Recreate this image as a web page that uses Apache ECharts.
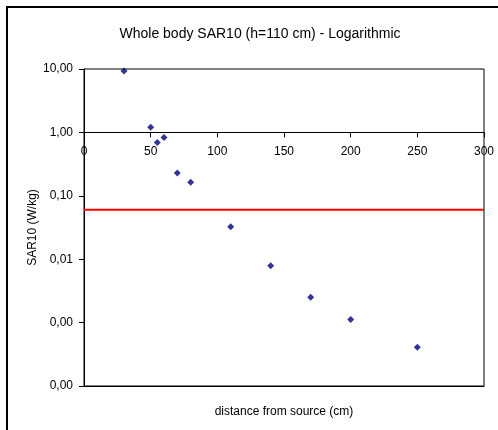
<!DOCTYPE html>
<html>
<head>
<meta charset="utf-8">
<script src="https://cdn.jsdelivr.net/npm/echarts@6/dist/echarts.min.js"></script>
<style>
html,body{margin:0;padding:0;background:#fff;}
#chart{width:498px;height:430px;}
</style>
</head>
<body>
<div id="chart"></div>
<script>
// Data
var distances = [30, 50, 55, 60, 70, 80, 110, 140, 170, 200, 250];
var sarValues = [9.3, 1.21, 0.69, 0.83, 0.228, 0.164, 0.0326, 0.0079, 0.0025, 0.00112, 0.00041];
var limitValue = 0.06;
var xTicks = [0, 50, 100, 150, 200, 250, 300];
var yTicks = [0.0001, 0.001, 0.01, 0.1, 1, 10];
var titleText = 'Whole body SAR10 (h=110 cm) - Logarithmic';
var xName = 'distance from source (cm)';
var yName = 'SAR10 (W/kg)';

var font = 'Liberation Sans, Arial, sans-serif';
var gridTop = 69, gridHeight = 317, gridLeft = 84, gridWidth = 400;
var yMin = yTicks[0], yMax = yTicks[yTicks.length - 1];
// x axis crosses y at 1
var crossAt = 1;
var crossOffset = -gridHeight * (Math.log10(yMax) - Math.log10(crossAt)) / (Math.log10(yMax) - Math.log10(yMin));

var chart = echarts.init(document.getElementById('chart'));
chart.setOption({
  animation: false,
  backgroundColor: '#fff',
  graphic: [{
    type: 'rect',
    shape: {x: 7, y: 7, width: 520, height: 460},
    style: {fill: 'none', stroke: '#000', lineWidth: 2},
    silent: true
  }],
  title: {
    text: titleText,
    left: 255, top: 22,
    textAlign: 'center',
    textStyle: {fontFamily: font, fontSize: 14, fontWeight: 'normal', color: '#000'}
  },
  grid: {
    left: gridLeft, top: gridTop, width: gridWidth, height: gridHeight,
    show: true, borderColor: '#000', borderWidth: 1, backgroundColor: 'transparent'
  },
  xAxis: [{
    type: 'value', min: xTicks[0], max: xTicks[xTicks.length - 1], interval: 50,
    position: 'top', offset: crossOffset,
    axisLine: {show: true, onZero: false, lineStyle: {color: '#000', width: 1}},
    axisTick: {show: true, inside: true, length: 5, lineStyle: {color: '#000'}},
    axisLabel: {inside: true, margin: 13, fontFamily: font, fontSize: 12, color: '#000'},
    splitLine: {show: false}
  }, {
    type: 'value', min: xTicks[0], max: xTicks[xTicks.length - 1], interval: 50,
    position: 'bottom',
    name: xName, nameLocation: 'middle', nameGap: 20, nameMoveOverlap: false,
    nameTextStyle: {fontFamily: font, fontSize: 12, color: '#000'},
    axisLine: {show: true, onZero: false, lineStyle: {color: '#000', width: 1}},
    axisTick: {show: false},
    axisLabel: {show: false},
    splitLine: {show: false}
  }],
  yAxis: {
    type: 'log', logBase: 10, min: yMin, max: yMax,
    name: yName, nameLocation: 'middle', nameGap: 45, nameRotate: 90, nameMoveOverlap: false,
    nameTextStyle: {fontFamily: font, fontSize: 12, color: '#000'},
    axisLine: {show: true, lineStyle: {color: '#000'}},
    axisTick: {show: true, length: 5, lineStyle: {color: '#000'}},
    axisLabel: {
      margin: 11, fontFamily: font, fontSize: 12, color: '#000',
      formatter: function (v) { return v.toFixed(2).replace('.', ','); }
    },
    splitLine: {show: false}
  },
  series: [{
    type: 'scatter',
    xAxisIndex: 0,
    symbol: 'diamond', symbolSize: 7,
    itemStyle: {color: '#000080'},
    data: distances.map(function (d, i) { return [d, sarValues[i]]; }),
    z: 3
  }, {
    type: 'line',
    xAxisIndex: 0,
    symbol: 'none',
    lineStyle: {color: '#ff0000', width: 2},
    data: [[xTicks[0], limitValue], [xTicks[xTicks.length - 1], limitValue]],
    z: 2
  }]
});
</script>
</body>
</html>
